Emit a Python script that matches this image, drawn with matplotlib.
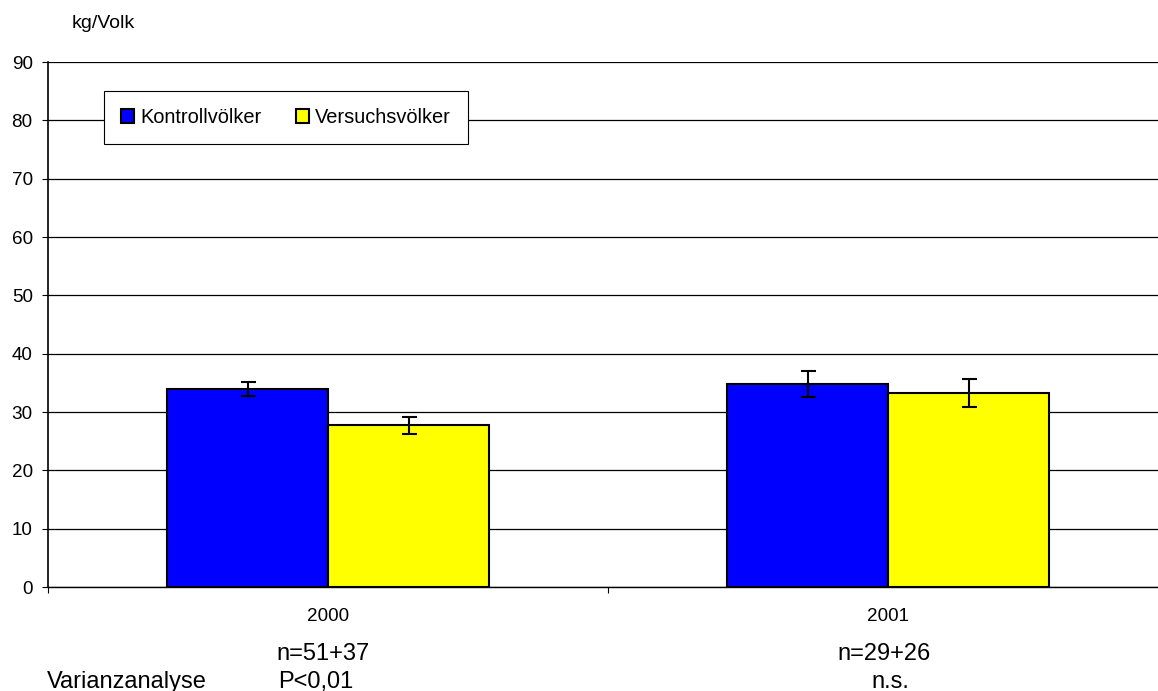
import matplotlib.pyplot as plt
import numpy as np

# Daten
jahre = ["2000", "2001"]
kontroll = [33.9, 34.8]
kontroll_fehler = [1.2, 2.3]
versuch = [27.7, 33.2]
versuch_fehler = [1.5, 2.4]
stichprobe = ["n=51+37", "n=29+26"]
signifikanz = ["P<0,01", "n.s."]

W, H = 1158, 691
fig = plt.figure(figsize=(W / 100, H / 100), dpi=100)
plt.rcParams['font.family'] = ['Liberation Sans', 'DejaVu Sans']

# Achse in Pixeln: links 48, rechts 1168 (über den Rand hinaus), oben 62, unten 587
ax = fig.add_axes([48 / W, 1 - 587 / H, (1168 - 48) / W, (587 - 62) / H])

x = np.arange(len(jahre))
breite = 0.2875

ax.bar(x - breite / 2, kontroll, breite, color="#0000ff", edgecolor="black",
       linewidth=1.5, label="Kontrollvölker", zorder=3)
ax.bar(x + breite / 2, versuch, breite, color="#ffff00", edgecolor="black",
       linewidth=1.5, label="Versuchsvölker", zorder=3)
ax.errorbar(x - breite / 2, kontroll, yerr=kontroll_fehler, fmt="none",
            ecolor="black", elinewidth=1.5, capsize=5.4, capthick=1.5, zorder=4)
ax.errorbar(x + breite / 2, versuch, yerr=versuch_fehler, fmt="none",
            ecolor="black", elinewidth=1.5, capsize=5.4, capthick=1.5, zorder=4)

ax.set_xlim(-0.5, 1.5)
ax.set_ylim(0, 90)
ax.set_yticks(range(0, 91, 10))
ax.yaxis.grid(True, color="black", linewidth=0.9, zorder=0)
ax.set_axisbelow(True)

ax.set_xticks(x)
ax.set_xticklabels(jahre, fontsize=13.6)
ax.tick_params(axis="x", length=0, pad=15)
ax.set_xticks([-0.5, 0.5, 1.5], minor=True)
ax.tick_params(axis="x", which="minor", length=4.5, width=0.8, direction="out")
ax.tick_params(axis="y", length=4, width=0.8, direction="out",
               labelsize=13.6, pad=7)

for side in ["top", "right"]:
    ax.spines[side].set_visible(False)
ax.spines["left"].set_linewidth(1.2)
ax.spines["bottom"].set_linewidth(1.0)

leg = fig.legend(*ax.get_legend_handles_labels(), loc="upper left",
                 bbox_to_anchor=(104 / W, 1 - 91 / H), borderaxespad=0,
                 ncol=2, frameon=True, fancybox=False, edgecolor="black",
                 fontsize=14.4, handlelength=0.65, handleheight=0.65,
                 handletextpad=0.3, columnspacing=1.75, borderpad=0.85,
                 framealpha=1)
leg.get_frame().set_linewidth(0.8)

fig.text(72 / W, 1 - 28 / H, "kg/Volk", fontsize=14, va="baseline", ha="left")

mitte_n = [323, 884]
mitte_p = [316, 890]
for i in range(len(jahre)):
    fig.text(mitte_n[i] / W, 1 - 660 / H, stichprobe[i], fontsize=17,
             ha="center", va="baseline")
    fig.text(mitte_p[i] / W, 1 - 688 / H, signifikanz[i], fontsize=17,
             ha="center", va="baseline")
fig.text(47 / W, 1 - 688 / H, "Varianzanalyse", fontsize=17,
         ha="left", va="baseline")

fig.savefig("out.png", dpi=100)
